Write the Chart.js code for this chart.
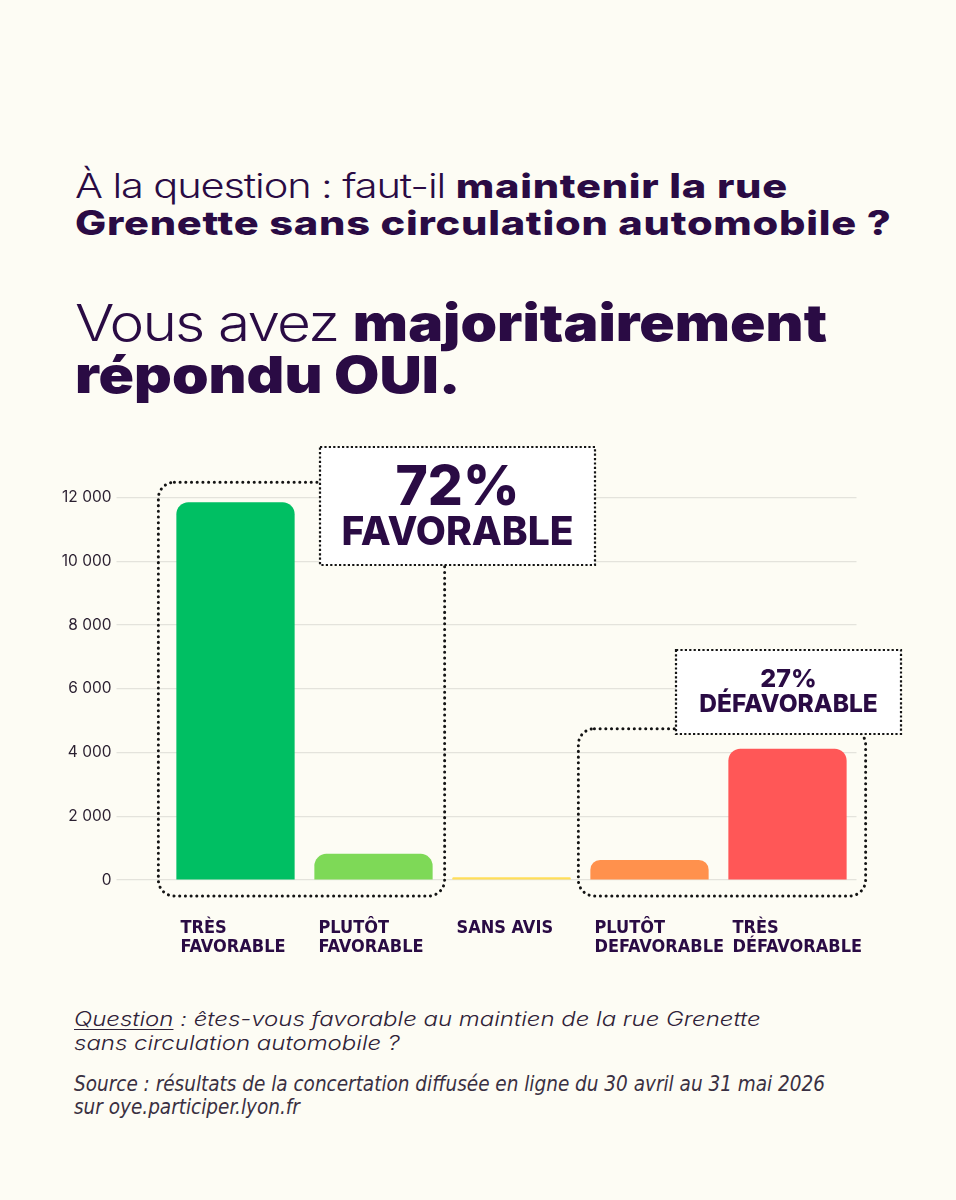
<!DOCTYPE html>
<html lang="fr">
<head>
<meta charset="utf-8">
<script src="https://cdn.jsdelivr.net/npm/chart.js@4.4.1/dist/chart.umd.min.js"></script>
<style>
  html, body { margin: 0; padding: 0; }
  body { width: 956px; height: 1200px; background: #fdfcf4; position: relative; overflow: hidden;
         font-family: Inter, "Noto Sans", sans-serif; color: #2a0b44; }
  .t { position: absolute; left: 75px; white-space: nowrap; transform-origin: 0 0; }
  .intro { top: 168px; font-size: 33.5px; line-height: 37px; font-weight: 300; letter-spacing: -0.9px; transform: scaleX(1.24); }
  .intro b { font-weight: 800; letter-spacing: 0.6px; }
  .head { top: 297px; font-size: 50.5px; line-height: 52px; font-weight: 300; letter-spacing: -1.6px; transform: scaleX(1.16); }
  .head b { font-weight: 900; letter-spacing: 0; }
  .question { top: 1008px; left: 74px; font-size: 19.5px; line-height: 23.5px; font-style: italic; font-weight: 300;
              color: #2f2238; transform: scaleX(1.23); }
  .question u { text-underline-offset: 3px; text-decoration-thickness: 1px; }
  .source { top: 1073px; left: 74px; font-family: "Liberation Sans Narrow", "DejaVu Sans Condensed", sans-serif;
            font-size: 20.5px; line-height: 22.5px; font-style: italic; color: #3a3042; }
  #chart { position: absolute; left: 0; top: 440px; }
</style>
</head>
<body>

<div class="t intro">À la question : faut-il <b>maintenir la rue</b><br><b>Grenette sans circulation automobile ?</b></div>
<div class="t head">Vous avez <b>majoritairement</b><br><b>répondu OUI.</b></div>

<canvas id="chart" width="956" height="530"></canvas>

<div class="t question"><u>Question</u> : êtes-vous favorable au maintien de la rue Grenette<br>sans circulation automobile ?</div>
<div class="t source">Source : résultats de la concertation diffusée en ligne du 30 avril au 31 mai 2026<br>sur oye.participer.lyon.fr</div>

<script>
// Données
const categories = [['TRÈS', 'FAVORABLE'], ['PLUTÔT', 'FAVORABLE'], ['SANS AVIS'], ['PLUTÔT', 'DEFAVORABLE'], ['TRÈS', 'DÉFAVORABLE']];
const responses = [11850, 820, 90, 630, 4120];
const yTicks = [0, 2000, 4000, 6000, 8000, 10000, 12000];

// Regroupements annotés
const groupRanges = [[0, 1], [3, 4]];
const groupPercents = ['72%', '27%'];
const groupLabels = ['FAVORABLE', 'DÉFAVORABLE'];

const barColors = ['#00bf63', '#7ed957', '#ffde59', '#ff914d', '#ff5757'];
const textColor = '#2a0b44';
const barPct = 0.857;

// styles des cadres pointillés (décalages en px)
const boxStyles = [
  { padL: 18, padR: 12, anchor: 1, label: { dx: -53.5, w: 275, top: -50.5, h: 118, pctY: 41, pctSize: 55, lblY: 86, lblSize: 39 } },
  { padL: 12, padR: 19, anchor: 4, label: { dx: -111.5, w: 225, top: 152.5, h: 84, pctY: 29, pctSize: 25, lblY: 55, lblSize: 24.5 } }
];

function fmt(v) {
  return String(v).replace(/\B(?=(\d{3})+(?!\d))/g, ' ');
}

function dotted(ctx) {
  ctx.strokeStyle = '#141414';
  ctx.lineWidth = 3;
  ctx.lineCap = 'round';
  ctx.setLineDash([0.1, 5.6]);
}

const groupBoxes = {
  id: 'groupBoxes',
  afterDatasetsDraw(chart) {
    const { ctx, scales: { x, y } } = chart;
    const pitch = x.getPixelForValue(1) - x.getPixelForValue(0);
    const half = pitch * barPct / 2;
    const yTop = y.getPixelForValue(yTicks[yTicks.length - 1]);
    ctx.save();
    // cadres autour des barres
    groupRanges.forEach((r, i) => {
      const st = boxStyles[i];
      const left = x.getPixelForValue(r[0]) - half - st.padL;
      const right = x.getPixelForValue(r[1]) + half + st.padR;
      const top = y.getPixelForValue(Math.max(...responses.slice(r[0], r[1] + 1))) - 20;
      const bottom = y.getPixelForValue(0) + 16;
      dotted(ctx);
      ctx.beginPath();
      ctx.roundRect(left, top, right - left, bottom - top, 16);
      ctx.stroke();
    });
    // étiquettes de pourcentage
    groupRanges.forEach((r, i) => {
      const l = boxStyles[i].label;
      const left = x.getPixelForValue(boxStyles[i].anchor) + l.dx;
      const top = yTop + l.top;
      ctx.setLineDash([]);
      ctx.fillStyle = '#ffffff';
      ctx.fillRect(left, top, l.w, l.h);
      ctx.strokeStyle = '#141414';
      ctx.lineCap = 'butt';
      ctx.setLineDash([2.2, 2.2]);
      ctx.lineWidth = 2.2;
      ctx.strokeRect(left, top, l.w, l.h);
      ctx.fillStyle = textColor;
      ctx.textAlign = 'center';
      ctx.textBaseline = 'middle';
      ctx.font = '800 ' + l.pctSize + 'px Inter, "Noto Sans", sans-serif';
      ctx.fillText(groupPercents[i], left + l.w / 2, top + l.pctY);
      ctx.font = '800 ' + l.lblSize + 'px Inter, "Noto Sans", sans-serif';
      ctx.fillText(groupLabels[i], left + l.w / 2, top + l.lblY);
    });
    ctx.restore();
  }
};

new Chart(document.getElementById('chart'), {
  type: 'bar',
  data: {
    labels: categories,
    datasets: [{
      data: responses,
      backgroundColor: barColors,
      borderRadius: 12,
      borderSkipped: 'start',
      categoryPercentage: 1,
      barPercentage: barPct
    }]
  },
  options: {
    responsive: false,
    animation: false,
    layout: { padding: { left: 0, right: 99.5, top: 57.5, bottom: 10 } },
    plugins: { legend: { display: false }, tooltip: { enabled: false } },
    scales: {
      x: {
        grid: { display: false, drawTicks: false },
        border: { display: false },
        afterFit: s => { s.height = 80; s.paddingLeft = 0; s.paddingRight = 0; },
        ticks: {
          color: textColor,
          align: 'start',
          labelOffset: -55,
          padding: 39,
          maxRotation: 0,
          autoSkip: false,
          font: { family: '"Liberation Sans Narrow", "DejaVu Sans Condensed", sans-serif', size: 18, weight: 'bold', lineHeight: 1.05 }
        }
      },
      y: {
        min: yTicks[0],
        max: yTicks[yTicks.length - 1],
        afterFit: s => { s.width = 166.5; },
        border: { display: false },
        grid: { color: '#e4e3dc', lineWidth: 1.2, tickLength: 50, drawTicks: true },
        ticks: {
          stepSize: yTicks[1] - yTicks[0],
          padding: 5,
          color: '#2a1f30',
          font: { family: 'Inter, "Noto Sans", sans-serif', size: 15.5 },
          callback: v => fmt(v)
        }
      }
    }
  },
  plugins: [groupBoxes]
});
</script>
</body>
</html>
